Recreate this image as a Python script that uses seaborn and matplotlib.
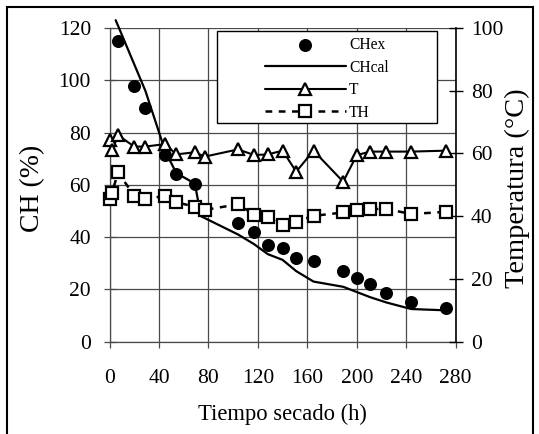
import matplotlib
matplotlib.use("Agg")
import matplotlib.pyplot as plt
from matplotlib.patches import Rectangle
import seaborn as sns
import pandas as pd

# ---- data ----
t_ex = [7, 20, 29, 45, 54, 69, 104, 117, 128, 140, 151, 165, 189, 200, 211, 224, 244, 272]
ch_ex = [115, 98, 89.5, 71.5, 64, 60.3, 45.5, 42, 37, 35.7, 32, 31, 27, 24.5, 22, 18.7, 15, 13]

t_cal = [5, 29, 45, 54, 69, 74, 104, 117, 128, 140, 151, 165, 189, 200, 211, 224, 244, 272]
ch_cal = [123, 96, 73, 64.5, 60.5, 48, 41, 37.3, 33.5, 31.3, 27, 23, 21, 19, 17, 15, 12.5, 12]

t_temp = [0, 2, 7, 20, 29, 45, 54, 69, 77, 104, 117, 128, 140, 151, 165, 189, 200, 211, 224, 244, 272]
temp_T = [64.2, 61.0, 65.8, 62.2, 62.2, 63.0, 59.7, 60.4, 59.0, 61.3, 59.5, 59.7, 60.9, 54.2, 60.9, 51.0, 59.5, 60.6, 60.6, 60.6, 60.9]
temp_TH = [45.5, 47.5, 54.0, 46.5, 45.5, 46.5, 44.5, 43.0, 42.0, 43.8, 40.5, 39.6, 37.2, 38.3, 40.1, 41.2, 42.1, 42.3, 42.3, 40.7, 41.4]

x_ticks = [0, 40, 80, 120, 160, 200, 240, 280]
y_ticks = [0, 20, 40, 60, 80, 100, 120]
y2_ticks = [0, 20, 40, 60, 80, 100]

df_ex = pd.DataFrame({"t": t_ex, "ch": ch_ex})
df_cal = pd.DataFrame({"t": t_cal, "ch": ch_cal})
df_temp = pd.DataFrame({"t": t_temp, "T": temp_T, "TH": temp_TH})

sns.set_theme(style="white")
plt.rcParams["font.family"] = ["Liberation Serif", "DejaVu Serif"]
for k in ("text.color", "axes.labelcolor", "xtick.color", "ytick.color",
          "xtick.labelcolor", "ytick.labelcolor"):
    plt.rcParams[k] = "black"

W, H = 539, 434
fig = plt.figure(figsize=(W / 100, H / 100), dpi=100)
x0, x1 = 109.5, 455.7
ytop, ybot = 28.0, 341.7
ax = fig.add_axes([x0 / W, 1 - ybot / H, (x1 - x0) / W, (ybot - ytop) / H])
ax2 = ax.twinx()

# ---- CH on left axis ----
sns.scatterplot(data=df_ex, x="t", y="ch", ax=ax, color="black", s=88,
                linewidth=0, label="CHex", legend=False, zorder=3)
sns.lineplot(data=df_cal, x="t", y="ch", ax=ax, color="black", lw=1.6,
             estimator=None, sort=False, label="CHcal", legend=False,
             clip_on=False, zorder=2)

# ---- temperatures on right axis ----
sns.lineplot(data=df_temp, x="t", y="T", ax=ax2, color="black", lw=1.5,
             marker="^", markersize=8.2, markerfacecolor="white",
             markeredgecolor="black", markeredgewidth=1.6,
             estimator=None, sort=False, label="T", legend=False, clip_on=False)
sns.lineplot(data=df_temp, x="t", y="TH", ax=ax2, color="black", lw=1.8,
             linestyle=(0, (2.7, 2.6)),
             marker="s", markersize=8.0, markerfacecolor="white",
             markeredgecolor="black", markeredgewidth=1.6,
             estimator=None, sort=False, label="TH", legend=False, clip_on=False)

# ---- axes ----
ax.set_xlim(0, 280)
ax.set_ylim(0, 120)
ax2.set_ylim(0, 100)
ax.set_xticks(x_ticks)
ax.set_yticks(y_ticks)
ax2.set_yticks(y2_ticks)

gridc = "#4a4a4a"
ax.grid(True, color=gridc, lw=0.9)
ax.set_axisbelow(True)
ax2.grid(False)
for a in (ax, ax2):
    a.patch.set_visible(False)
    for s in a.spines.values():
        s.set_visible(False)
ax.spines["left"].set_visible(True)
ax.spines["left"].set_color(gridc)
ax.spines["left"].set_linewidth(0.9)
ax.spines["bottom"].set_visible(True)
ax.spines["bottom"].set_color(gridc)
ax.spines["bottom"].set_linewidth(0.9)
ax2.spines["right"].set_visible(True)
ax2.spines["right"].set_color("black")
ax2.spines["right"].set_linewidth(1.2)

ax.tick_params(axis="y", direction="inout", length=8.6, width=0.9, color=gridc,
               labelcolor="black", labelsize=15.5, pad=9, left=True)
ax.tick_params(axis="x", direction="out", length=4.5, width=0.9, color=gridc,
               labelcolor="black", labelsize=15.5, pad=15, bottom=True)
ax2.tick_params(axis="y", direction="inout", length=9.4, width=1.0, color="black",
                labelcolor="black", labelsize=15.5, pad=6.3, right=True)

ax.set_xlabel("Tiempo secado (h)", fontsize=16.3, va="center", color="black")
ax.xaxis.set_label_coords(0.5, -0.2305)
ax.set_ylabel("CH (%)", fontsize=20, va="center", color="black")
ax.yaxis.set_label_coords(-0.221, 0.49)
ax2.set_ylabel("Temperatura (°C)", fontsize=20.5, va="center", rotation=90,
               color="black")
ax2.yaxis.set_label_coords(1.177, 0.49)

# ---- legend ----
h1, l1 = ax.get_legend_handles_labels()
h2, l2 = ax2.get_legend_handles_labels()
box = Rectangle((217 / W, 1 - 123 / H), (437 - 217) / W, (123 - 31) / H,
                transform=fig.transFigure, facecolor="white", edgecolor="black",
                lw=1.0, zorder=6)
ax2.add_artist(box)
leg = ax2.legend(h1 + h2, l1 + l2, loc="upper left",
                 bbox_to_anchor=(265 / W, 1 - 37.0 / H),
                 bbox_transform=fig.transFigure, frameon=False,
                 fontsize=11.2, handlelength=5.2, handletextpad=0.2,
                 labelspacing=0.42, borderpad=0, borderaxespad=0,
                 scatterpoints=1)
for txt in leg.get_texts():
    txt.set_color("black")
leg.set_zorder(7)

# ---- outer chart border ----
fig.add_artist(Rectangle((7 / W, -0.1), (533 - 7) / W, 1.1 - 7 / H,
                         transform=fig.transFigure, fill=False,
                         edgecolor="black", lw=1.5))

fig.savefig("out.png", dpi=100)
